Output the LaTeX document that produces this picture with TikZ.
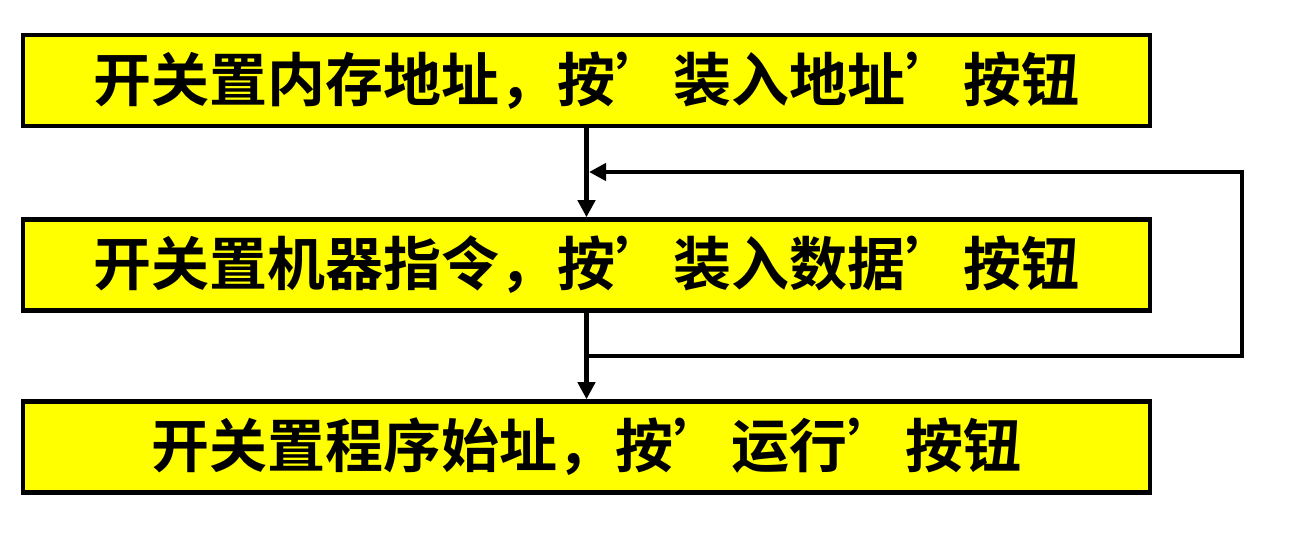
\documentclass[tikz,border=0pt]{standalone}
\usepackage{fontspec}
\usepackage{tikz}
\usetikzlibrary{arrows.meta,positioning}
\newfontfamily\cjk{Noto Sans CJK SC}[UprightFont=* Bold]
\definecolor{boxyellow}{HTML}{FFFF00}

\begin{document}
\begin{tikzpicture}[x=0.02cm,y=-0.02cm,
  blk/.style={draw=black,fill=boxyellow,line width=2.6pt,minimum width=22.54cm,
              minimum height=1.82cm,inner sep=0pt,
              font=\cjk\fontsize{33}{38}\selectfont},
  f/.style={-{Triangle[length=3.4mm,width=3.4mm]},line width=2.4pt},
  g/.style={line width=2.4pt}]
\useasboundingbox (0,0) rectangle (1312,537);

\node[blk](b1) at (586.5,80.5){开关置内存地址，按’装入地址’按钮};
\node[blk](b2) at (586.5,265){开关置机器指令，按’装入数据’按钮};
\node[blk](b3) at (586.5,447){开关置程序始址，按’运行’按钮};

\coordinate (sp) at (586.5,356); \coordinate (rb) at (1242,356);
\coordinate (jn) at (589,172);

\draw[f](b1)--(b2); \draw[f](b2)--(b3);
\draw[f](sp)--(rb)|-(jn);
\end{tikzpicture}
\end{document}
